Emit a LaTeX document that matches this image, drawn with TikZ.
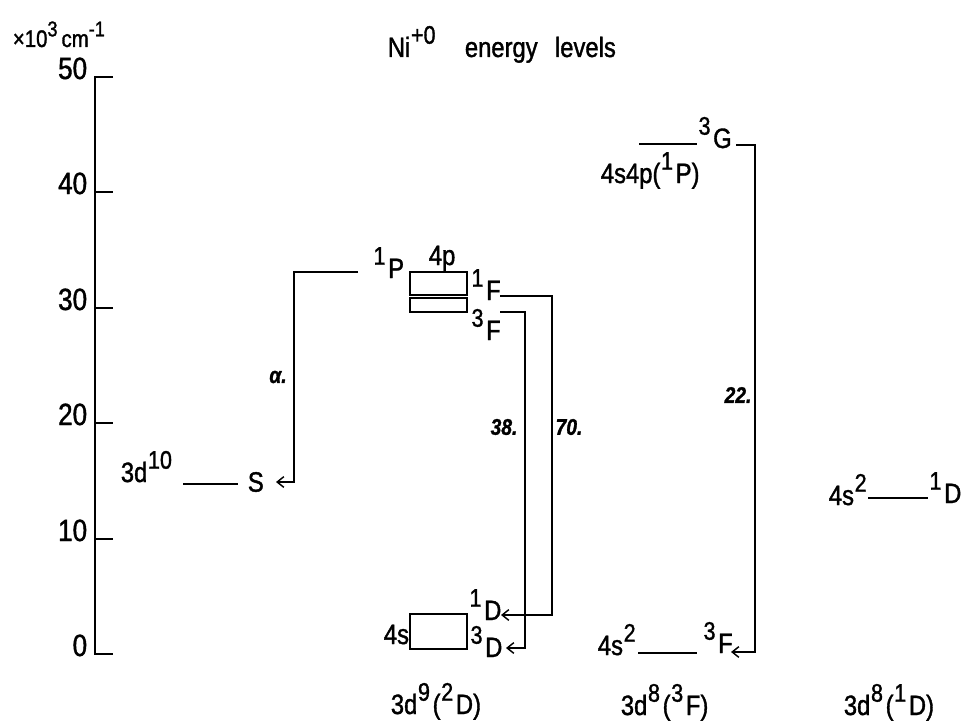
\documentclass[tikz,border=0pt]{standalone}
\usepackage{fontspec}
\setmainfont{Liberation Sans}[FakeStretch=0.85,FakeBold=1.3]
\usetikzlibrary{arrows.meta}
\newcommand{\sups}[1]{\kern0.5pt\raisebox{10pt}{\fontsize{19}{19}\selectfont #1}\kern2pt}
\newcommand{\usups}[1]{\raisebox{8pt}{\fontsize{16}{16}\selectfont #1}}
\begin{document}
\begin{tikzpicture}[x=0.75pt,y=-0.75pt,line width=1.3pt,
  lbl/.style={inner sep=0pt,anchor=base west,font=\fontsize{21}{21}\selectfont},
  ticklbl/.style={inner sep=0pt,anchor=base east,font=\fontsize{23}{23}\selectfont},
  unitlbl/.style={inner sep=0pt,anchor=base west,font=\fontsize{18}{18}\selectfont},
  rate/.style={inner sep=0pt,anchor=center,font=\fontsize{17}{17}\selectfont\bfseries\itshape},
  axisline/.style={line width=2pt},
  level/.style={line width=1.4pt},
  conn/.style={line width=1.3pt,-{Straight Barb[length=5pt,width=8pt,line width=1.1pt]}}]
\useasboundingbox (0,0) rectangle (962,724);

% axis
\draw[axisline] (113,77) -- (95,77) -- (95,654) -- (113,654);
\foreach \yy in {192,308,423,539} \draw[axisline] (95,\yy) -- (113,\yy);
\node[ticklbl] (t50) at (88,79) {50};
\node[ticklbl] (t40) at (88,194) {40};
\node[ticklbl] (t30) at (88,310) {30};
\node[ticklbl] (t20) at (88,425) {20};
\node[ticklbl] (t10) at (88,541) {10};
\node[ticklbl] (t0) at (88,656) {0};
\node[unitlbl] (unit) at (12,47) {×10\usups{3}\,cm\usups{-1}};

% title
\node[lbl] (title) at (387,57) {Ni\sups{+0}\hspace{20pt}energy\hspace{13pt}levels};

% 3d10
\node[lbl] (d10) at (120,482) {3d\sups{10}};
\draw[level] (183,484) coordinate (d10a) -- (238,484) coordinate (d10b);
\node[lbl,anchor=west] (S) at (247,482) {S};
\coordinate (Stip) at (276,482);

% 3d9 4p and 4s
\draw[level] (410,272) rectangle (467,295);
\draw[level] (410,298) rectangle (467,312);
\node[lbl] (fourp) at (428,265) {4p};
\node[lbl] (P1) at (372,278) {\sups{1}P};
\node[lbl] (F1) at (470,300) {\sups{1}F};
\node[lbl] (F3) at (470,340) {\sups{3}F};
\draw[level] (410,614) rectangle (467,649);
\node[lbl] (fours) at (383,644) {4s};
\node[lbl] (D1) at (468,620) {\sups{1}D};
\node[lbl] (D3) at (469,657) {\sups{3}D};
\node[lbl] (cfgA) at (390,714) {3d\sups{9}(\sups{2}D)};

\coordinate (p1end) at (358,272);
\coordinate (alphaC) at (294,482);
\coordinate (f1end) at (500,296);
\coordinate (f1C) at (552,615);
\coordinate (D1tip) at (501,615);
\coordinate (f3end) at (500,312);
\coordinate (f3C) at (525,648);
\coordinate (D3tip) at (506,648);

\draw[conn] (p1end) -| (alphaC) -- (Stip);
\draw[conn] (f1end) -| (f1C) -- (D1tip);
\draw[conn] (f3end) -| (f3C) -- (D3tip);
\node[rate] (ralpha) at (278,377) {α.};
\node[rate] (r38) at (504,427) {38.};
\node[rate] (r70) at (569,427) {70.};

% 3d8(3F)
\draw[level] (639,144) -- (697,144);
\node[lbl] (G3) at (697,148) {\sups{3}G};
\node[lbl] (sp) at (600,183) {4s4p(\sups{1}P)};
\draw[level] (638,653) -- (697,653);
\node[lbl] (s2a) at (597,655) {4s\sups{2}};
\node[lbl] (F3b) at (702,653) {\sups{3}F};
\node[lbl] (cfgB) at (620,715) {3d\sups{8}(\sups{3}F)};
\coordinate (g3end) at (736,145);
\coordinate (g3C) at (755,652);
\coordinate (F3tip) at (731,652);
\draw[conn] (g3end) -| (g3C) -- (F3tip);
\node[rate] (r22) at (738,395) {22.};

% 3d8(1D)
\node[lbl] (s2b) at (828,505) {4s\sups{2}};
\draw[level] (868,498) -- (928,498);
\node[lbl] (D1b) at (928,503) {\sups{1}D};
\node[lbl] (cfgC) at (843,715) {3d\sups{8}(\sups{1}D)};
\end{tikzpicture}
\end{document}
